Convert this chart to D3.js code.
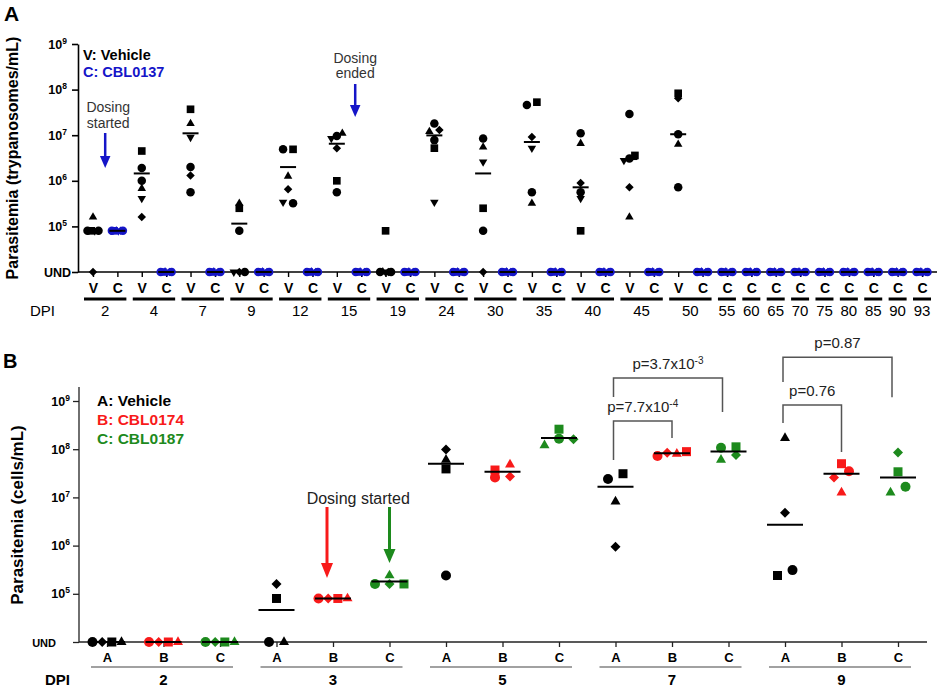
<!DOCTYPE html>
<html>
<head>
<meta charset="utf-8">
<title>Parasitemia</title>
<script src="https://cdn.jsdelivr.net/npm/d3@7"></script>
<style>
    body { margin: 0; background: #fff; }
    svg text { font-family: Arial, "Liberation Sans", Helvetica, sans-serif; }
</style>
</head>
<body>
<div id="chart"></div>
<script>
// ---------- panel A data (trypanosomes/mL, 0 = UND) ----------
const aVehicleDays = [2, 4, 7, 9, 12, 15, 19, 24, 30, 35, 40, 45, 50];
const aTreatedDays = [2, 4, 7, 9, 12, 15, 19, 24, 30, 35, 40, 45, 50, 55, 60, 65, 70, 75, 80, 85, 90, 93];
const aShapes = ["circle", "square", "triangle", "triangleDown", "diamond", "circle"];
// one row per vehicle day, one value per mouse (order of aShapes)
const aVehicle = [
    [8e4, 8e4, 1.6e5, 8e4, 0, 8e4],
    [1.9e6, 4.5e6, 6.8e5, 4.1e5, 1.6e5, 1.0e6],
    [2.0e6, 3.7e7, 1.8e7, 9.0e6, 1.3e6, 5.6e5],
    [8e4, 2.5e5, 3.2e5, 0, 0, 0],
    [4.9e6, 4.9e6, 1.26e6, 3.4e5, 6.5e5, 3.2e5],
    [9.6e6, 1.0e6, 1.1e7, 8.5e6, 5.2e6, 5.6e5],
    [0, 8e4, 0, 0, 0, 0],
    [1.8e7, 5.2e6, 1.2e7, 3.4e5, 1.3e7, 7.8e6],
    [8.5e6, 2.5e5, 5.5e6, 2.6e6, 0, 8e4],
    [4.6e7, 5.3e7, 3.2e5, 5.2e6, 9.1e6, 5.6e5],
    [1.1e7, 8e4, 6.6e6, 4.1e5, 8.9e5, 5.6e5],
    [2.9e7, 3.6e6, 1.6e5, 2.8e6, 7.2e5, 3.1e6],
    [1.05e7, 8.3e7, 6.3e6, null, 6.5e7, 7.2e5]
];
const aVehicleLine = [8e4, 1.45e6, 1.1e7, 1.15e5, 2.0e6, 6.5e6, 0, 9.9e6, 1.45e6, 7.1e6, 7.2e5, 3.0e6, 1.05e7];
// CBL0137, one row per day of aTreatedDays
const aTreated = [
    [8e4, 8e4, 8e4, 8e4, 8e4, 8e4],
    [0, 0, 0, 0, 0, 0], [0, 0, 0, 0, 0, 0], [0, 0, 0, 0, 0, 0], [0, 0, 0, 0, 0, 0],
    [0, 0, 0, 0, 0, 0], [0, 0, 0, 0, 0, 0], [0, 0, 0, 0, 0, 0], [0, 0, 0, 0, 0, 0],
    [0, 0, 0, 0, 0, 0], [0, 0, 0, 0, 0, 0], [0, 0, 0, 0, 0, 0], [0, 0, 0, 0, 0, 0],
    [0, 0, 0, 0, 0, 0], [0, 0, 0, 0, 0, 0], [0, 0, 0, 0, 0, 0], [0, 0, 0, 0, 0, 0],
    [0, 0, 0, 0, 0, 0], [0, 0, 0, 0, 0, 0], [0, 0, 0, 0, 0, 0], [0, 0, 0, 0, 0, 0],
    [0, 0, 0, 0, 0, 0]
];
const aTreatedLine = [8e4, 0, 0, 0, 0, 0, 0, 0, 0, 0, 0, 0, 0, 0, 0, 0, 0, 0, 0, 0, 0, 0];

// ---------- panel B data (cells/mL, 0 = UND) ----------
const bDays = [2, 3, 5, 7, 9];
const bGroups = ["A", "B", "C"];
const bShapes = ["circle", "diamond", "square", "triangle"];
// [day][group][mouse]
const bValues = [
    [[0, 0, 0, 0], [0, 0, 0, 0], [0, 0, 0, 0]],
    [[0, 1.6e5, 8e4, 0], [8e4, 8e4, 8e4, 8e4], [1.6e5, 1.6e5, 1.6e5, 2.4e5]],
    [[2.4e5, 9.8e7, 3.9e7, 6e7], [2.6e7, 2.7e7, 3.7e7, 4.8e7], [1.65e8, 1.6e8, 2.6e8, 1.2e8]],
    [[2.4e7, 9.5e5, 3.1e7, 8.2e6], [7.2e7, 8.4e7, 8.9e7, 8e7], [1.07e8, 7.6e7, 1.12e8, 6e7]],
    [[3.1e5, 4.8e6, 2.4e5, 1.7e8], [3.5e7, 2.6e7, 5e7, 1.26e7], [1.66e7, 8.5e7, 3.4e7, 1.26e7]]
];
const bLine = [
    [0, 0, 0],
    [4.6e4, 8e4, 1.8e5],
    [5e7, 3.4e7, 1.7e8],
    [1.66e7, 8.2e7, 9e7],
    [2.7e6, 3.1e7, 2.6e7]
];
// significance brackets: levels in cells/mL
const bBrackets = [
    {from: "7A", to: "7C", p: "p=3.7x10", exp: "-3", top: 3.0e9, left: 1.21e9, right: 5.9e8},
    {from: "7A", to: "7B", p: "p=7.7x10", exp: "-4", top: 3.85e8, left: 6e7, right: 1.7e8},
    {from: "9A", to: "9C", p: "p=0.87", exp: "", top: 8.1e9, left: 2.47e9, right: 1.2e9},
    {from: "9A", to: "9B", p: "p=0.76", exp: "", top: 8.3e8, left: 3.5e8, right: 8.7e7}
];

const blue = "#1515c8", red = "#f81a1a", green = "#1d8a1d";
const bColors = {A: "#000", B: red, C: green};
const tickVals = [1e4, 1e5, 1e6, 1e7, 1e8, 1e9];

const svg = d3.select("#chart").append("svg")
    .attr("width", 941).attr("height", 687);

// marker paths
function shapePath(name, s) {
    const h = s / 2;
    if (name === "circle") return d3.symbol(d3.symbolCircle, Math.PI * h * h)();
    if (name === "square") { const q = h * 0.9; return `M${-q},${-q}H${q}V${q}H${-q}Z`; }
    if (name === "triangle") { const t = s * 0.866; return `M0,${-t * 2 / 3}L${h},${t / 3}L${-h},${t / 3}Z`; }
    if (name === "triangleDown") { const t = s * 0.866; return `M0,${t * 2 / 3}L${h},${-t / 3}L${-h},${-t / 3}Z`; }
    const d = s * 0.5;
    return `M0,${-d}L${d},0L0,${d}L${-d},0Z`;
}

// spread tied points horizontally inside each column (lower points to the left)
function spread(points, threshold, maxStep, total) {
    d3.group(points, p => p.key).forEach(arr => {
        const sorted = arr.slice().sort((a, b) => a.y - b.y);
        const clusters = [];
        let cur = [sorted[0]];
        for (let i = 1; i < sorted.length; i++) {
            if (sorted[i].y - sorted[i - 1].y < threshold) cur.push(sorted[i]);
            else { clusters.push(cur); cur = [sorted[i]]; }
        }
        clusters.push(cur);
        clusters.forEach(c => {
            c.sort((a, b) => Math.abs(a.y - b.y) > 1.5 ? b.y - a.y : a.idx - b.idx);
            const n = c.length;
            const step = n > 1 ? Math.min(maxStep, total / (n - 1)) : 0;
            c.forEach((p, i) => p.dx = (i - (n - 1) / 2) * step);
        });
    });
}

function supLabel(sel, base, exp, supSize) {
    sel.text(base);
    if (exp) sel.append("tspan").attr("dy", -5).attr("font-size", supSize).text(exp);
}

function arrow(x, y0, y1, color, headW, headL, w) {
    svg.append("line").attr("x1", x).attr("x2", x).attr("y1", y0).attr("y2", y1 - headL + 1)
        .attr("stroke", color).attr("stroke-width", w);
    svg.append("path").attr("d", `M${x - headW / 2},${y1 - headL}L${x + headW / 2},${y1 - headL}L${x},${y1}Z`)
        .attr("fill", color);
}

// =================== PANEL A ===================
const aCats = [];
aVehicleDays.forEach(d => { aCats.push({day: d, grp: "V"}); aCats.push({day: d, grp: "C"}); });
aTreatedDays.filter(d => !aVehicleDays.includes(d)).forEach(d => aCats.push({day: d, grp: "C"}));
const aKey = c => c.day + c.grp;

const xA = d3.scalePoint().domain(aCats.map(aKey)).range([93, 922]);
const yA = d3.scaleLog().domain([1e4, 1e9]).range([272, 44]);
const yAv = v => yA(Math.max(v, 1e4));

// y axis
const gAy = svg.append("g").attr("transform", "translate(78,0)")
    .call(d3.axisLeft(yA).tickValues(tickVals).tickSize(6).tickSizeOuter(0).tickFormat(""));
gAy.select(".domain").attr("stroke-width", 1.6);
gAy.selectAll(".tick line").attr("stroke-width", 1.6);
tickVals.forEach(v => {
    const t = svg.append("text").attr("x", v === 1e4 ? 71 : 67).attr("y", yA(v) + 4.5)
        .attr("text-anchor", "end").attr("font-size", 12.5).attr("font-weight", "bold");
    if (v === 1e4) t.text("UND");
    else supLabel(t, "10", String(Math.log10(v)), 8.5);
});

// x axis
svg.append("line").attr("x1", 78).attr("x2", 937).attr("y1", 272).attr("y2", 272)
    .attr("stroke", "#000").attr("stroke-width", 1.6);
const gAx = svg.append("g").attr("transform", "translate(0,272)")
    .call(d3.axisBottom(xA).tickSize(5).tickPadding(6).tickFormat(k => k.slice(-1)));
gAx.select(".domain").remove();
gAx.selectAll(".tick line").attr("stroke-width", 1.4);
gAx.selectAll(".tick text").attr("font-size", 14).attr("font-weight", "bold")
    .attr("font-family", "Arial, 'Liberation Sans', sans-serif");

// day group underlines
aTreatedDays.forEach(d => {
    const xs = aCats.filter(c => c.day === d).map(c => xA(aKey(c)));
    const x0 = d3.min(xs) - 9, x1 = d3.max(xs) + 9;
    svg.append("line").attr("x1", x0).attr("x2", x1).attr("y1", 299).attr("y2", 299)
        .attr("stroke", "#000").attr("stroke-width", 3);
    svg.append("text").attr("x", (x0 + x1) / 2).attr("y", 316).attr("text-anchor", "middle")
        .attr("font-size", 15).text(d);
});
svg.append("text").attr("x", 30).attr("y", 316).attr("font-size", 15).text("DPI");

// points
const aPoints = [];
aVehicle.forEach((row, i) => row.forEach((v, j) => {
    if (v === null) return;
    aPoints.push({key: aVehicleDays[i] + "V", v, idx: j, shape: aShapes[j], color: "#000", y: yAv(v)});
}));
aTreated.forEach((row, i) => row.forEach((v, j) => {
    if (v === null) return;
    aPoints.push({key: aTreatedDays[i] + "C", v, idx: j, shape: aShapes[j], color: blue, y: yAv(v)});
}));
spread(aPoints, 3.5, 10, 11);
svg.append("g").selectAll("path").data(aPoints).join("path")
    .attr("transform", d => `translate(${xA(d.key) + d.dx},${d.y})`)
    .attr("d", d => shapePath(d.shape, 8.5))
    .attr("fill", d => d.color);

// centre lines
const aLines = aVehicleLine.map((v, i) => ({key: aVehicleDays[i] + "V", v}))
    .concat(aTreatedLine.map((v, i) => ({key: aTreatedDays[i] + "C", v})));
svg.append("g").selectAll("line").data(aLines).join("line")
    .attr("x1", d => xA(d.key) - 8).attr("x2", d => xA(d.key) + 8)
    .attr("y1", d => yAv(d.v)).attr("y2", d => yAv(d.v))
    .attr("stroke", "#000").attr("stroke-width", 2);

// annotations
const aStartX = (xA("2V") + xA("2C")) / 2;
svg.append("text").attr("x", aStartX + 3).attr("y", 112).attr("text-anchor", "middle")
    .attr("font-size", 14).attr("fill", "#333").text("Dosing");
svg.append("text").attr("x", aStartX + 3).attr("y", 128).attr("text-anchor", "middle")
    .attr("font-size", 14).attr("fill", "#333").text("started");
arrow(aStartX, 133, 168, blue, 10.5, 12, 2.5);
const aEndX = xA("15C") - 6;
svg.append("text").attr("x", aEndX).attr("y", 63).attr("text-anchor", "middle")
    .attr("font-size", 14).attr("fill", "#333").text("Dosing");
svg.append("text").attr("x", aEndX).attr("y", 78).attr("text-anchor", "middle")
    .attr("font-size", 14).attr("fill", "#333").text("ended");
arrow(aEndX, 84, 117, blue, 10.5, 12, 2.5);

svg.append("text").attr("x", 83).attr("y", 60).attr("font-size", 14.5).attr("font-weight", "bold")
    .text("V: Vehicle");
svg.append("text").attr("x", 83).attr("y", 77).attr("font-size", 14.5).attr("font-weight", "bold")
    .attr("fill", blue).text("C: CBL0137");

svg.append("text").attr("transform", "translate(18,158) rotate(-90)").attr("text-anchor", "middle")
    .attr("font-size", 16).attr("font-weight", "bold").text("Parasitemia (trypanosomes/mL)");
svg.append("text").attr("x", 4).attr("y", 21).attr("font-size", 21).attr("font-weight", "bold").text("A");

// =================== PANEL B ===================
const bKeys = [];
bDays.forEach(d => bGroups.forEach(g => bKeys.push(d + g)));
const xB = d3.scalePoint().domain(bKeys).range([107, 898]);
const yB = d3.scaleLog().domain([1e4, 1e9]).range([642, 401]);
const yBv = v => yB(Math.max(v, 1e4));

svg.append("line").attr("x1", 79).attr("x2", 79).attr("y1", 387).attr("y2", 642)
    .attr("stroke", "#222").attr("stroke-width", 1.3);
const gBy = svg.append("g").attr("transform", "translate(79,0)")
    .call(d3.axisLeft(yB).tickValues(tickVals).tickSize(6).tickSizeOuter(0).tickFormat(""));
gBy.select(".domain").remove();
gBy.selectAll(".tick line").attr("stroke", "#222").attr("stroke-width", 1.3);
tickVals.forEach(v => {
    const t = svg.append("text").attr("x", v === 1e4 ? 56 : 70).attr("y", yB(v) + 4.5)
        .attr("text-anchor", "end").attr("font-size", v === 1e4 ? 11 : 12.5).attr("font-weight", "bold");
    if (v === 1e4) t.text("UND");
    else supLabel(t, "10", String(Math.log10(v)), 8.5);
});

svg.append("line").attr("x1", 79).attr("x2", 927).attr("y1", 642).attr("y2", 642)
    .attr("stroke", "#222").attr("stroke-width", 1.3);
const gBx = svg.append("g").attr("transform", "translate(0,642)")
    .call(d3.axisBottom(xB).tickSize(5).tickPadding(6).tickFormat(k => k.slice(-1)));
gBx.select(".domain").remove();
gBx.selectAll(".tick line").attr("stroke", "#222").attr("stroke-width", 1.3);
gBx.selectAll(".tick text").attr("font-size", 13).attr("font-weight", "bold")
    .attr("font-family", "Arial, 'Liberation Sans', sans-serif");

bDays.forEach(d => {
    const x0 = xB(d + "A") - 16, x1 = xB(d + "C") + 13;
    svg.append("line").attr("x1", x0).attr("x2", x1).attr("y1", 667).attr("y2", 667)
        .attr("stroke", "#444").attr("stroke-width", 1.2);
    svg.append("text").attr("x", xB(d + "B")).attr("y", 685).attr("text-anchor", "middle")
        .attr("font-size", 15).attr("font-weight", "bold").text(d);
});
svg.append("text").attr("x", 45).attr("y", 685).attr("font-size", 15).attr("font-weight", "bold").text("DPI");

const bPoints = [];
bValues.forEach((day, i) => day.forEach((grp, g) => grp.forEach((v, j) => {
    bPoints.push({key: bDays[i] + bGroups[g], v, idx: j, shape: bShapes[j],
        color: bColors[bGroups[g]], y: yBv(v)});
})));
spread(bPoints, 6.5, 15, 29);
svg.append("g").selectAll("path").data(bPoints).join("path")
    .attr("transform", d => `translate(${xB(d.key) + d.dx},${d.y})`)
    .attr("d", d => shapePath(d.shape, 10))
    .attr("fill", d => d.color);

const bLines = [];
bLine.forEach((row, i) => row.forEach((v, g) => bLines.push({key: bDays[i] + bGroups[g], v})));
svg.append("g").selectAll("line").data(bLines).join("line")
    .attr("x1", d => xB(d.key) - 18).attr("x2", d => xB(d.key) + 18)
    .attr("y1", d => yBv(d.v)).attr("y2", d => yBv(d.v))
    .attr("stroke", "#000").attr("stroke-width", 2);

// brackets
bBrackets.forEach(b => {
    const xa = xB(b.from) - 2, xb = xB(b.to) - (b.to.endsWith("C") ? 6 : 0), yt = yB(b.top);
    svg.append("path")
        .attr("d", `M${xa},${yB(b.left)}V${yt}H${xb}V${yB(b.right)}`)
        .attr("fill", "none").attr("stroke", "#555").attr("stroke-width", 1.5);
    const t = svg.append("text").attr("x", (xa + xb) / 2).attr("y", yt - 9)
        .attr("text-anchor", "middle").attr("font-size", 15).attr("fill", "#222");
    supLabel(t, b.p, b.exp, 10);
});

// dosing arrows
svg.append("text").attr("x", (xB("3B") - 6 + xB("3C")) / 2).attr("y", 504).attr("text-anchor", "middle")
    .attr("font-size", 16).attr("fill", "#222").text("Dosing started");
arrow(xB("3B") - 6, 507, 578, red, 12, 15, 3);
arrow(xB("3C"), 507, 563, green, 12, 14, 3);

svg.append("text").attr("x", 97).attr("y", 406).attr("font-size", 15.5).attr("font-weight", "bold").text("A: Vehicle");
svg.append("text").attr("x", 97).attr("y", 425).attr("font-size", 15.5).attr("font-weight", "bold")
    .attr("fill", red).text("B: CBL0174");
svg.append("text").attr("x", 97).attr("y", 444).attr("font-size", 15.5).attr("font-weight", "bold")
    .attr("fill", green).text("C: CBL0187");

svg.append("text").attr("transform", "translate(23,515) rotate(-90)").attr("text-anchor", "middle")
    .attr("font-size", 17).attr("font-weight", "bold").text("Parasitemia (cells/mL)");
svg.append("text").attr("x", 3).attr("y", 368).attr("font-size", 20).attr("font-weight", "bold").text("B");
</script>
</body>
</html>
